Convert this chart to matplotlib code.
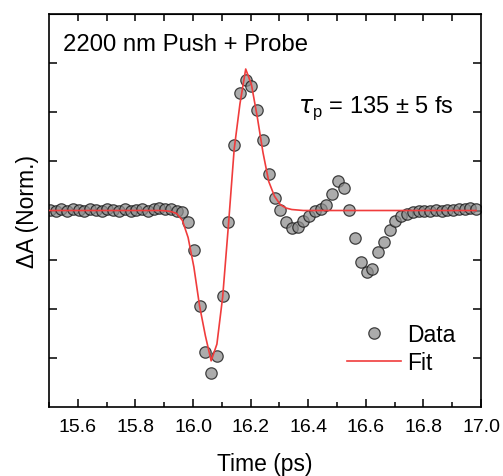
import numpy as np
import matplotlib
matplotlib.use("Agg")
import matplotlib.pyplot as plt
from matplotlib.ticker import MultipleLocator

plt.rcParams['font.family'] = ['Liberation Sans', 'DejaVu Sans']

# time grid (ps)
time_ps = [15.503 + 0.02 * k for k in range(75)]

# normalized Delta A data
data = [0.02, -0.01, 0.03, 0.00, 0.04, 0.01, -0.02, 0.03, 0.02, -0.01,
        0.04, 0.01, 0.00, 0.03, -0.02, 0.02, 0.04, 0.00, 0.03, 0.05,
        0.04, 0.03, 0.00, -0.04, -0.24, -0.80, -1.94, -2.88, -3.31, -2.96,
        -1.75, -0.23, 1.33, 2.39, 2.66, 2.54, 2.05, 1.44, 0.74, 0.25,
        0.01, -0.24, -0.36, -0.33, -0.21, -0.11, 0.00, 0.03, 0.11, 0.34,
        0.61, 0.45, 0.01, -0.56, -1.05, -1.26, -1.19, -0.85, -0.64, -0.40,
        -0.21, -0.12, -0.07, -0.04, -0.02, -0.01, 0.00, 0.01, 0.00, 0.02,
        0.01, 0.04, 0.03, 0.05, 0.04]

# fit curve
fit = [0.0] * 20 + [-0.005, -0.02, -0.06, -0.20, -0.55, -1.15, -1.95, -2.55, -3.06, -2.72,
                    -1.76, -0.30, 1.25, 2.17, 2.88, 2.56, 1.91, 1.18, 0.59, 0.29,
                    0.12, 0.05, 0.02, 0.01] + [0.0] * 31

title_text = "2200 nm Push + Probe"
tau_text = r"$\tau_\mathregular{p}$ = 135 ± 5 fs"
x_ticks = [15.6, 15.8, 16.0, 16.2, 16.4, 16.6, 16.8, 17.0]

fig = plt.figure(figsize=(5.03, 4.77), dpi=100)
ax = fig.add_axes([49/503, 1 - 408/477, 432/503, 393/477])

ax.plot(time_ps, data, linestyle='none', marker='o', markersize=8.2,
        markerfacecolor=(0.55, 0.55, 0.55, 0.72), markeredgecolor=(0.1, 0.1, 0.1, 0.8),
        markeredgewidth=0.9, label='Data', zorder=2)
ax.plot(time_ps, fit, color='#f03c3c', lw=1.2, label='Fit', zorder=3)

ax.set_xlim(15.5, 17.0)
ax.set_ylim(-4, 4)
ax.set_xticks(x_ticks)
ax.set_xticklabels([f"{v:.1f}" for v in x_ticks])
ax.xaxis.set_minor_locator(MultipleLocator(0.1))
ax.set_yticks([-3, -2, -1, 0, 1, 2, 3])
ax.set_yticklabels([])
ax.tick_params(axis='x', which='major', direction='in', length=6, width=1.1,
               labelsize=14, pad=8, bottom=True, top=False)
ax.tick_params(axis='x', which='minor', direction='in', length=3.5, width=1.1,
               bottom=True, top=False)
ax.tick_params(axis='y', which='major', direction='in', length=6, width=1.1,
               left=True, right=True)
for s in ax.spines.values():
    s.set_linewidth(1.2)

top = ax.secondary_xaxis('top')
top.set_xticks([15.6 + 0.1 * i for i in range(14)])
top.tick_params(direction='in', length=5, width=1.1, labeltop=False)
top.set_xticklabels([])

ax.set_xlabel("Time (ps)", fontsize=16.5, labelpad=12)
ax.set_ylabel("ΔA (Norm.)", fontsize=16.5, labelpad=4)

ax.text(0.032, 0.908, title_text, transform=ax.transAxes, fontsize=17.2,
        ha='left', va='baseline')
ax.text(0.576, 0.751, tau_text, transform=ax.transAxes, fontsize=17,
        ha='left', va='baseline')

ax.legend(loc='lower left', bbox_to_anchor=(0.69, 0.085), frameon=False,
          fontsize=16.5, handlelength=2.35, handletextpad=0.28, labelspacing=0.2,
          borderpad=0, borderaxespad=0, numpoints=1)

fig.savefig("out.png", dpi=100)
